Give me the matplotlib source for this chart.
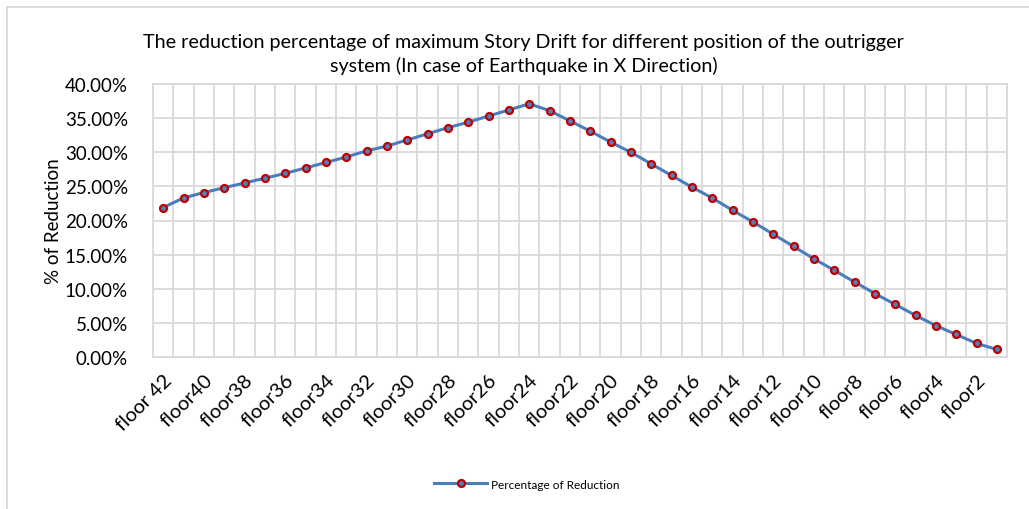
import numpy as np
import matplotlib
matplotlib.use('Agg')
import matplotlib.pyplot as plt
from matplotlib.patches import Rectangle
from matplotlib.ticker import FuncFormatter

plt.rcParams['font.family'] = ['Lato', 'DejaVu Sans']

# floors from 42 down to 1
floors = ['floor 42'] + ['floor%d' % f for f in range(41, 0, -1)]
reduction = [21.9, 23.3, 24.1, 24.8, 25.5, 26.2, 26.9, 27.7, 28.5, 29.3,
             30.2, 30.9, 31.8, 32.7, 33.6, 34.4, 35.3, 36.2, 37.1, 36.1,
             34.6, 33.1, 31.5, 30.0, 28.3, 26.6, 24.9, 23.3, 21.5, 19.8,
             18.0, 16.2, 14.4, 12.7, 11.0, 9.3, 7.7, 6.1, 4.6, 3.3,
             2.0, 1.1]
yticks = [0, 5, 10, 15, 20, 25, 30, 35, 40]

grid_c = '#d9d9d9'

fig = plt.figure(figsize=(10.29, 5.10), dpi=100)
ax = fig.add_axes([153/1029, 1 - 358/510, (1007 - 153)/1029, (358 - 85)/510])

x = np.arange(len(floors))
ax.plot(x, reduction, color='#4a7ebb', linewidth=2.2, marker='o', markersize=5,
        markerfacecolor='#4f81bd', markeredgecolor='#c00000', markeredgewidth=1.6,
        label='Percentage of Reduction', zorder=3)

ax.set_xlim(-0.5, len(floors) - 0.5)
ax.set_ylim(0, 40)
ax.set_yticks(yticks)
ax.yaxis.set_major_formatter(FuncFormatter(lambda v, p: '%.2f%%' % v))
ax.set_xticks(x[::2])
ax.set_xticklabels(floors[::2], rotation=45, ha='right', va='top', rotation_mode='anchor')
ax.set_xticks(np.arange(-0.5, len(floors), 1), minor=True)
ax.tick_params(axis='both', which='both', length=0)
ax.tick_params(axis='y', pad=18, labelsize=13.5)
ax.tick_params(axis='x', pad=10, labelsize=14.5)
ax.grid(True, axis='y', color=grid_c, linewidth=1.3)
ax.grid(True, axis='x', which='minor', color=grid_c, linewidth=1.3)
ax.set_axisbelow(True)
for s in ax.spines.values():
    s.set_color(grid_c)
    s.set_linewidth(1.3)

ax.set_ylabel('% of Reduction', fontsize=13.5)
ax.yaxis.set_label_coords(-0.107, 0.5)

fig.text(0.509, 0.893, 'The reduction percentage of maximum Story Drift for different position of the outrigger\nsystem (In case of Earthquake in X Direction)',
         ha='center', va='center', fontsize=14.2, linespacing=1.45)

leg = fig.legend(loc='center', bbox_to_anchor=(0.512, 0.049), frameon=False,
                 fontsize=8.5, handlelength=4.5, handletextpad=0.3)

fig.patches.append(Rectangle((7/1029, -0.1), 1.2, 1 - 8/510 + 0.1, transform=fig.transFigure,
                             fill=False, edgecolor=grid_c, linewidth=1.3))

fig.savefig('out.png', dpi=100)
